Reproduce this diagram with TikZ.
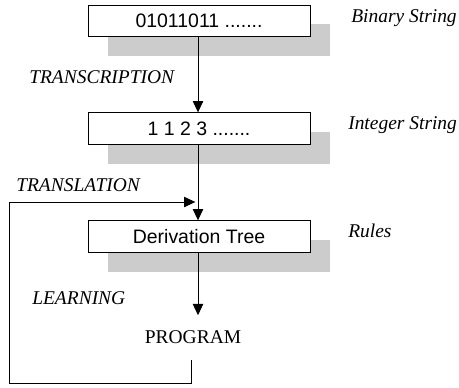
\documentclass[tikz,border=0pt]{standalone}
\usepackage{fontspec}
\setmainfont{Liberation Serif}
\newfontfamily\arialfont{Liberation Sans}
\usetikzlibrary{arrows.meta}
\begin{document}
\begin{tikzpicture}[x=0.75pt,y=-0.75pt,
  boxnode/.style={draw=black,line width=0.75pt,fill=white,minimum width=166.5pt,minimum height=23.5pt,inner sep=0pt,font=\arialfont\fontsize{14.6}{17}\selectfont},
  shadowbox/.style={fill=black!20,draw=none},
  lbl/.style={anchor=base west,inner sep=0pt,font=\itshape\fontsize{14.6}{17}\selectfont},
  conn/.style={line width=0.75pt,-{Triangle[width=7.8pt,length=8.5pt]}},
  loopline/.style={line width=0.75pt}]
\useasboundingbox (0,0) rectangle (459,387);
% shadows
\fill[shadowbox] (108,24) rectangle (330,56);
\fill[shadowbox] (108,132) rectangle (330,164);
\fill[shadowbox] (108,240) rectangle (330,272);
% boxes
\node[boxnode] (b1) at (199,21) {01011011 .......};
\node[boxnode] (b2) at (199,128.5) {1 1 2 3 .......};
\node[boxnode] (b3) at (199,236.5) {Derivation Tree};
\coordinate (axis) at (198,0);
\node[inner xsep=0pt,inner ysep=11.6pt,font=\fontsize{14.6}{17}\selectfont] (prog) at (193,337.5) {PROGRAM};
% connectors
\draw[conn] (b1.south -| axis) -- (b2.north -| axis);
\draw[conn] (b2.south -| axis) -- (b3.north -| axis);
\draw[conn] (b3.south -| axis) -- (prog.north -| axis);
\coordinate (c1) at (9,383);
\coordinate (c2) at (9,202);
\draw[conn] ([xshift=-1pt]prog.south) -- ([xshift=-1pt]prog.south |- c1) -- (c1) -- (c2) -- ([xshift=-2pt]c2 -| axis);
% labels
\node[lbl] (l1) at (351,22) {Binary String};
\node[lbl] (l2) at (348,129) {Integer String};
\node[lbl] (l3) at (348,237) {Rules};
\node[lbl] (l4) at (29,83) {TRANSCRIPTION};
\node[lbl] (l5) at (16,191) {TRANSLATION};
\node[lbl] (l6) at (32,304) {LEARNING};
\end{tikzpicture}
\end{document}
